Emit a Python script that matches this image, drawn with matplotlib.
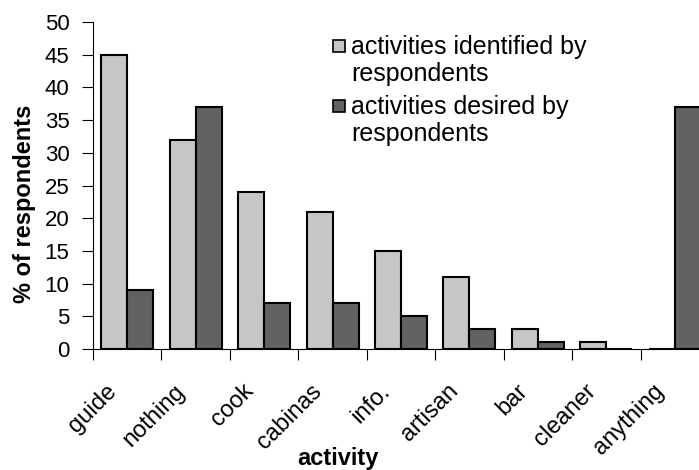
import matplotlib
matplotlib.use("Agg")
import matplotlib.pyplot as plt
import matplotlib.transforms as mtransforms
from matplotlib.patches import Rectangle
import numpy as np

plt.rcParams['font.family'] = ['Liberation Sans', 'DejaVu Sans']

categories = ["guide", "nothing", "cook", "cabinas", "info.", "artisan", "bar", "cleaner", "anything"]
identified = [45, 32, 24, 21, 15, 11, 3, 1, 0]
desired = [9, 37, 7, 7, 5, 3, 1, 0, 37]
series_labels = ["activities identified by\nrespondents", "activities desired by\nrespondents"]
y_ticks = [0, 5, 10, 15, 20, 25, 30, 35, 40, 45, 50]

light = "#c6c6c6"
dark = "#626262"

W, H = 699, 470
fig = plt.figure(figsize=(W / 100, H / 100), dpi=100)
# axes run past the right edge of the figure, so the last group is cut off
left, right, bottom, top = 93, 709, 349, 22
ax = fig.add_axes([left / W, 1 - bottom / H, (right - left) / W, (bottom - top) / H])

x = np.arange(len(categories))
bw = 0.38
ax.bar(x - bw / 2, identified, width=bw, color=light, edgecolor="black", linewidth=1.5)
ax.bar(x + bw / 2, desired, width=bw, color=dark, edgecolor="black", linewidth=1.5)

ax.set_xlim(-0.5, len(categories) - 0.5)
ax.set_ylim(0, 50)
ax.set_yticks(y_ticks)
ax.tick_params(axis='y', labelsize=16, length=8, width=0.8, direction='out', pad=9)

# category boundaries get tick marks, names sit between them
ax.set_xticks(np.arange(len(categories)) - 0.5)
ax.set_xticklabels([])
ax.set_xticks(x, minor=True)
ax.set_xticklabels(categories, minor=True, rotation=45, ha='right', va='center',
                   rotation_mode='anchor', fontsize=17)
ax.tick_params(axis='x', which='major', length=8, width=0.8, direction='out')
ax.tick_params(axis='x', which='minor', length=0, pad=28)
shift = mtransforms.ScaledTranslation(-0.14, 0, fig.dpi_scale_trans)
for lab in ax.get_xticklabels(minor=True):
    lab.set_transform(lab.get_transform() + shift)

for s in ("top", "right"):
    ax.spines[s].set_visible(False)
for s in ("left", "bottom"):
    ax.spines[s].set_linewidth(0.8)

fig.text(25 / W, 1 - 204 / H, "% of respondents", rotation=90, ha='center', va='center',
         fontsize=17, fontweight='bold')
fig.text(338 / W, 1 - 458 / H, "activity", ha='center', va='center',
         fontsize=17, fontweight='bold')

# legend: swatch aligned with the first line of each two-line entry
leg_rows = [(series_labels[0], light, 40), (series_labels[1], dark, 100)]
for text, color, ytop in leg_rows:
    fig.patches.append(Rectangle((333 / W, 1 - (ytop + 12) / H), 12 / W, 12 / H,
                                 transform=fig.transFigure, facecolor=color,
                                 edgecolor="black", linewidth=1.2))
    fig.text(351 / W, 1 - (ytop - 5) / H, text, ha='left', va='top',
             fontsize=18, linespacing=1.15)

fig.savefig("out.png", dpi=100)
